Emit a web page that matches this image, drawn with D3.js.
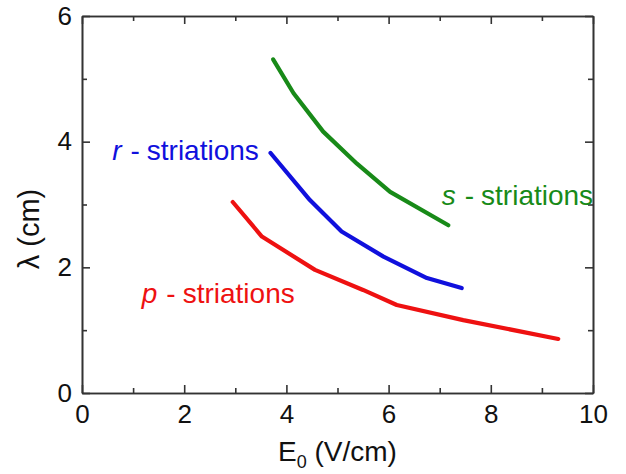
<!DOCTYPE html>
<html>
<head>
<meta charset="utf-8">
<script src="https://cdn.jsdelivr.net/npm/d3@7"></script>
<style>
  body { margin: 0; background: #fff; }
  text { font-family: "Liberation Sans", Arial, sans-serif; }
</style>
</head>
<body>
<div id="chart"></div>
<script>
/* wavelength of striations vs field E0 */

const sE = [3.74, 4.14, 4.72, 5.38, 6.03, 7.17],
      sLambda = [5.31, 4.77, 4.16, 3.65, 3.20, 2.67];

const rE = [3.69, 4.46, 5.08, 5.90, 6.75, 7.43],
      rLambda = [3.82, 3.07, 2.57, 2.17, 1.83, 1.67];

const pE = [2.95, 3.52, 4.56, 5.50, 6.16, 7.46, 9.32],
      pLambda = [3.04, 2.49, 1.96, 1.64, 1.40, 1.16, 0.86];

const xMajor = [0, 2, 4, 6, 8, 10],
      xMinor = [1, 3, 5, 7, 9],
      yMajor = [0, 2, 4, 6],
      yMinor = [1, 3, 5];

const series = [
    { name: "s", E: sE, lambda: sLambda, color: "#188a18", label: [7.04, 2.99] },
    { name: "r", E: rE, lambda: rLambda, color: "#1010dd", label: [0.59, 3.71] },
    { name: "p", E: pE, lambda: pLambda, color: "#ee1111", label: [1.17, 1.44] }
];

const width = 626,
      height = 474,
      margin = ({ top: 16, right: 33, bottom: 81, left: 82 });

let svg = d3.select("#chart")
            .append("svg")
            .attr("width", width)
            .attr("height", height)
            .attr("viewBox", [0, 0, width, height]);

const x = d3.scaleLinear()
            .domain([0, 10])
            .range([margin.left, width - margin.right]);

const y = d3.scaleLinear()
            .domain([0, 6])
            .range([height - margin.bottom, margin.top]);

const axisColor = "#333";
const fmt = d3.format("d");

function styleAxis(g) {
    g.select(".domain").attr("stroke", axisColor).attr("stroke-width", 1.6);
    g.selectAll(".tick line").attr("stroke", axisColor).attr("stroke-width", 1.6);
    g.selectAll(".tick text")
        .attr("fill", "#111")
        .style("font-family", "'Liberation Sans', Arial, sans-serif")
        .style("font-size", "26px");
}

// bottom
svg.append("g")
    .attr("transform", `translate(0,${height - margin.bottom})`)
    .call(d3.axisBottom(x).tickValues(xMajor).tickFormat(fmt).tickSize(-8).tickSizeOuter(0).tickPadding(12))
    .call(styleAxis);
svg.append("g")
    .attr("transform", `translate(0,${height - margin.bottom})`)
    .call(d3.axisBottom(x).tickValues(xMinor).tickSize(-5).tickSizeOuter(0).tickFormat(""))
    .call(styleAxis);

// top
svg.append("g")
    .attr("transform", `translate(0,${margin.top})`)
    .call(d3.axisTop(x).tickValues(xMajor).tickSize(-8).tickSizeOuter(0).tickFormat(""))
    .call(styleAxis);
svg.append("g")
    .attr("transform", `translate(0,${margin.top})`)
    .call(d3.axisTop(x).tickValues(xMinor).tickSize(-5).tickSizeOuter(0).tickFormat(""))
    .call(styleAxis);

// left
svg.append("g")
    .attr("transform", `translate(${margin.left},0)`)
    .call(d3.axisLeft(y).tickValues(yMajor).tickFormat(fmt).tickSize(-8).tickSizeOuter(0).tickPadding(10))
    .call(styleAxis);
svg.append("g")
    .attr("transform", `translate(${margin.left},0)`)
    .call(d3.axisLeft(y).tickValues(yMinor).tickSize(-5).tickSizeOuter(0).tickFormat(""))
    .call(styleAxis);

// right
svg.append("g")
    .attr("transform", `translate(${width - margin.right},0)`)
    .call(d3.axisRight(y).tickValues(yMajor).tickSize(-8).tickSizeOuter(0).tickFormat(""))
    .call(styleAxis);
svg.append("g")
    .attr("transform", `translate(${width - margin.right},0)`)
    .call(d3.axisRight(y).tickValues(yMinor).tickSize(-5).tickSizeOuter(0).tickFormat(""))
    .call(styleAxis);

// curves
const line = d3.line()
    .x(d => x(d[0]))
    .y(d => y(d[1]));

for (let s of series) {
    const pts = s.E.map((e, i) => [e, s.lambda[i]]);
    svg.append("path")
        .datum(pts)
        .attr("fill", "none")
        .attr("stroke", s.color)
        .attr("stroke-width", 4.2)
        .attr("stroke-linecap", "round")
        .attr("stroke-linejoin", "round")
        .attr("d", line);

    const t = svg.append("text")
        .attr("x", x(s.label[0]))
        .attr("y", y(s.label[1]))
        .attr("fill", s.color)
        .style("font-size", "28px");
    t.append("tspan").style("font-style", "italic").text(s.name);
    t.append("tspan").attr("dx", 9).text("-");
    t.append("tspan").attr("dx", 7).text("striations");
}

// axis titles
const xt = svg.append("text")
    .attr("x", (margin.left + width - margin.right) / 2)
    .attr("y", 461)
    .attr("text-anchor", "middle")
    .attr("fill", "#111")
    .style("font-size", "28px");
xt.append("tspan").text("E");
xt.append("tspan").attr("dy", 7).style("font-size", "18px").text("0");
xt.append("tspan").attr("dy", -7).text(" (V/cm)");

svg.append("text")
    .attr("transform", "translate(39,229) rotate(-90)")
    .attr("text-anchor", "middle")
    .attr("fill", "#111")
    .style("font-size", "29px")
    .text("λ (cm)");
</script>
</body>
</html>
